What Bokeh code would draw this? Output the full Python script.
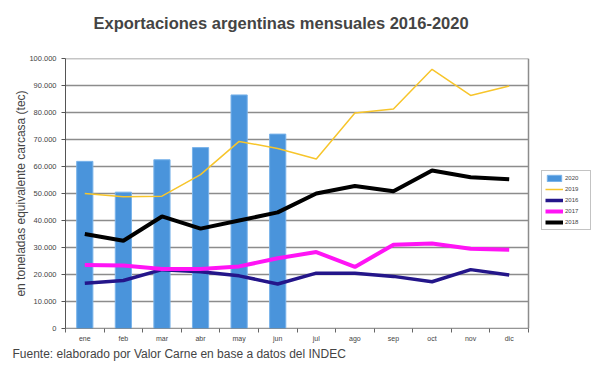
from bokeh.plotting import figure
from bokeh.models import FixedTicker, Legend, LegendItem, Title, Range1d
from bokeh.embed import file_html
from bokeh.resources import INLINE

months = ["ene", "feb", "mar", "abr", "may", "jun", "jul", "ago", "sep", "oct", "nov", "dic"]
y2020 = [61900, 50500, 62500, 67000, 86500, 72000]
y2019 = [50000, 48800, 49000, 57000, 69300, 66700, 62800, 79800, 81300, 96000, 86300, 89800]
y2016 = [16800, 17800, 21800, 21000, 19500, 16500, 20500, 20500, 19300, 17300, 21800, 19800]
y2017 = [23500, 23300, 22000, 22000, 23000, 26000, 28300, 22800, 31000, 31500, 29500, 29200]
y2018 = [35000, 32500, 41500, 37000, 40000, 43000, 50000, 52800, 50800, 58500, 56000, 55300]
yticks = list(range(0, 100001, 10000))

FONT = "Liberation Sans"
GRID = "#8C8C8C"
xs = list(range(len(months)))

# layout (pixels)
W, H = 603, 370
LEFT, TOP, BOTTOM, RIGHT = 65, 58, 42, 5
PLOT_W = 463  # width of the category area inside the frame
frame_w = W - LEFT - RIGHT
x_lo, x_hi = -0.5, len(months) - 0.5
x_end = x_lo + frame_w * (x_hi - x_lo) / PLOT_W

p = figure(width=W, height=H, output_backend="svg", toolbar_location=None,
           x_range=Range1d(x_lo, x_end), y_range=Range1d(0, 100000),
           min_border_left=LEFT, min_border_right=RIGHT, min_border_top=TOP, min_border_bottom=BOTTOM)
p.outline_line_color = None

# main title (outermost) and a spacer title between it and the plot area
p.title = Title(text="Exportaciones argentinas mensuales 2016-2020", align="left",
                text_font=FONT, text_font_size="16.5px", text_font_style="bold",
                offset=28, standoff=0)
p.add_layout(Title(text=" ", text_font=FONT, text_font_size="22px", standoff=0), "above")

# grid lines and plot-area border
p.segment(x0=x_lo, x1=x_hi, y0=yticks, y1=yticks, line_color=GRID, line_width=1.5)
p.segment(x0=[x_hi], x1=[x_hi], y0=[0], y1=[yticks[-1]], line_color=GRID, line_width=1.5)

bars = p.vbar(x=xs[:len(y2020)], top=y2020, width=0.42, fill_color="#4A94DB", line_color="#79B3EA", line_width=1)
l2019 = p.line(xs, y2019, line_color="#F7C52B", line_width=1.5)
l2016 = p.line(xs, y2016, line_color="#24168A", line_width=3.5)
l2017 = p.line(xs, y2017, line_color="#FF14F5", line_width=4)
l2018 = p.line(xs, y2018, line_color="#000000", line_width=4)

# x axis
p.xaxis.ticker = FixedTicker(ticks=xs, minor_ticks=[i - 0.5 for i in range(len(months) + 1)])
p.xaxis.major_label_overrides = {i: m for i, m in enumerate(months)}
p.xaxis.major_tick_out = 0
p.xaxis.major_tick_in = 0
p.xaxis.minor_tick_out = 4
p.xaxis.minor_tick_in = 0
p.xaxis.minor_tick_line_color = "#666666"
p.xaxis.axis_line_color = None
p.xaxis.major_label_text_font = FONT
p.xaxis.major_label_text_font_size = "7px"
p.xaxis.major_label_standoff = 2
p.segment(x0=[x_lo], x1=[x_hi], y0=[0], y1=[0], line_color="#666666", line_width=1.2)

# y axis
p.yaxis.ticker = FixedTicker(ticks=yticks, minor_ticks=[])
p.yaxis.major_label_overrides = {t: ("0" if t == 0 else f"{t // 1000}.000") for t in yticks}
p.yaxis.major_tick_out = 4
p.yaxis.major_tick_in = 0
p.yaxis.major_tick_line_color = "#555555"
p.yaxis.axis_line_color = "#555555"
p.yaxis.major_label_text_font = FONT
p.yaxis.major_label_text_font_size = "7.5px"
p.yaxis.axis_label = "en toneladas equivalente carcasa (tec)"
p.yaxis.axis_label_text_font = FONT
p.yaxis.axis_label_text_font_size = "12px"
p.yaxis.axis_label_text_font_style = "normal"
p.yaxis.axis_label_standoff = -2

p.xgrid.grid_line_color = None
p.ygrid.grid_line_color = None

legend = Legend(items=[
    LegendItem(label="2020", renderers=[bars]),
    LegendItem(label="2019", renderers=[l2019]),
    LegendItem(label="2016", renderers=[l2016]),
    LegendItem(label="2017", renderers=[l2017]),
    LegendItem(label="2018", renderers=[l2018]),
], location=(476, 98))
legend.label_text_font = FONT
legend.label_text_font_size = "6px"
legend.glyph_height = 8
legend.glyph_width = 18
legend.label_height = 8
legend.label_width = 22
legend.spacing = 3
legend.padding = 3
legend.margin = 0
legend.border_line_color = "#888888"
legend.label_standoff = 2
p.add_layout(legend, "center")

foot = Title(text="Fuente: elaborado por  Valor Carne en base a datos del INDEC", align="left",
             text_font=FONT, text_font_size="12px", text_font_style="normal",
             offset=-53, standoff=0)
p.add_layout(foot, "below")

open("out.html", "w").write(file_html(p, INLINE))
